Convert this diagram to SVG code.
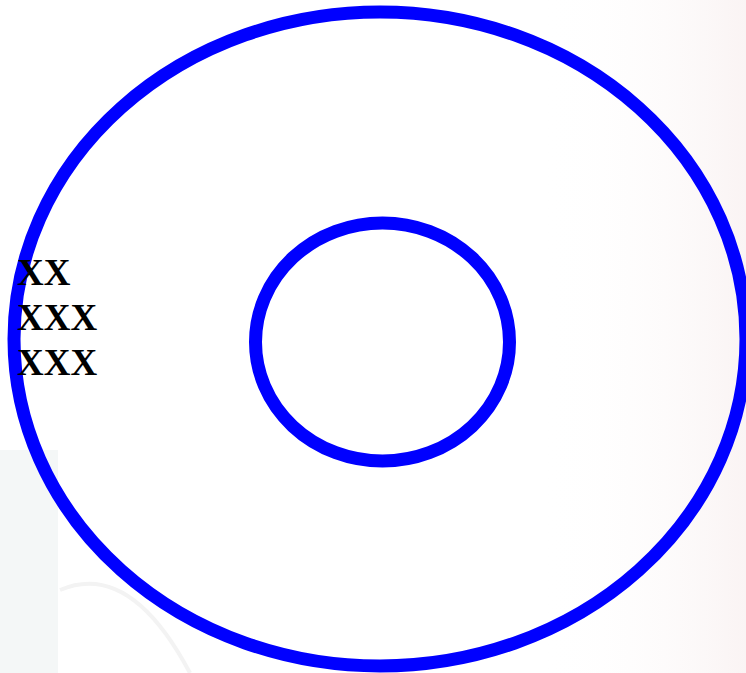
<svg xmlns="http://www.w3.org/2000/svg" width="746" height="673" viewBox="0 0 746 673">
<defs>
<linearGradient id="bgR" x1="0" y1="0" x2="1" y2="0">
<stop offset="0" stop-color="#ffffff" stop-opacity="0"/>
<stop offset="1" stop-color="#faf4f4" stop-opacity="1"/>
</linearGradient>
</defs>
<style>
.ring{fill:none;stroke:#0000ff;stroke-width:13}
.lbl{font-family:"Liberation Serif",serif;font-weight:bold;font-size:37px;fill:#000}
</style>
<rect x="0" y="0" width="746" height="673" fill="#ffffff"/>
<rect x="0" y="450" width="58" height="223" fill="#f4f7f7"/>
<path d="M60 590 Q130 560 190 673" fill="none" stroke="#f3f3f3" stroke-width="4"/>
<rect x="540" y="0" width="206" height="673" fill="url(#bgR)"/>
<g id="outer"><ellipse class="ring" cx="380" cy="339" rx="366" ry="327"/></g>
<g id="inner"><ellipse class="ring" cx="382.5" cy="342" rx="127" ry="119"/></g>
<g id="label">
<text class="lbl" x="17" y="285">XX</text>
<text class="lbl" x="17" y="330">XXX</text>
<text class="lbl" x="17" y="375">XXX</text>
</g>
<g id="connectors"/>
</svg>
